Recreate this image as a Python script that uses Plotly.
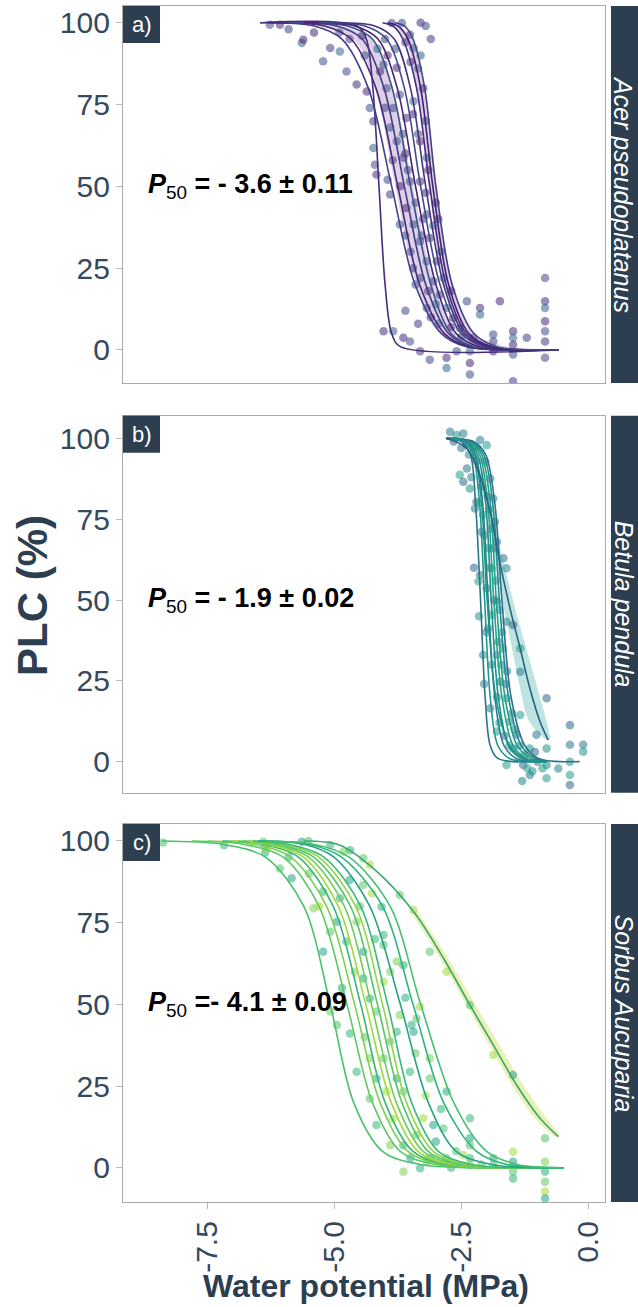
import plotly.graph_objects as go

W, H = 638, 1307

# ---------------- data ----------------
SPECIES = ["Acer pseudoplatanus", "Betula pendula", "Sorbus Aucuparia"]
PANEL_TAGS = ["a)", "b)", "c)"]
P50_TEXT = ["= - 3.6 ± 0.11", "= - 1.9 ± 0.02", "=- 4.1 ± 0.09"]
Y_TICKS = [0, 25, 50, 75, 100]
X_TICKS = [-7.5, -5.0, -2.5, 0.0]
X_TICK_TEXT = ["-7.5", "-5.0", "-2.5", "0.0"]

LEVELS = [100, 99, 95, 80, 50, 20, 5, 1, 0]

A_CURVES_X = [
    [-6.46, -4.55, -4.37, -4.24, -4.12, -4.00, -3.87, -3.70, -0.59],
    [-6.46, -5.40, -4.85, -4.33, -3.87, -3.41, -2.89, -2.40, -0.59],
    [-6.30, -5.20, -4.67, -4.18, -3.75, -3.32, -2.83, -2.35, -0.59],
    [-6.10, -4.95, -4.45, -4.02, -3.62, -3.20, -2.75, -2.30, -0.59],
    [-5.90, -4.75, -4.25, -3.86, -3.50, -3.10, -2.70, -2.25, -0.59],
    [-5.60, -4.60, -4.14, -3.76, -3.40, -3.00, -2.60, -2.15, -0.59],
    [-5.30, -4.40, -3.97, -3.62, -3.30, -2.92, -2.50, -2.05, -0.59],
    [-5.00, -4.20, -3.82, -3.50, -3.20, -2.85, -2.45, -2.00, -0.59],
    [-4.05, -3.85, -3.65, -3.38, -3.12, -2.80, -2.40, -1.95, -0.59],
    [-3.95, -3.75, -3.55, -3.30, -3.06, -2.75, -2.35, -1.90, -0.59],
    [-3.80, -3.62, -3.45, -3.22, -3.00, -2.68, -2.25, -1.80, -0.59],
]
A_RIB_Y = [100, 95, 80, 50, 20, 5, 0]
A_RIB1_XLO = [-5.60, -4.62, -4.20, -3.80, -3.38, -2.92, -1.80]
A_RIB1_XHI = [-5.20, -4.28, -3.85, -3.45, -3.02, -2.58, -1.50]
A_RIB2_XLO = [-3.95, -3.62, -3.38, -3.14, -2.84, -2.45, -1.60]
A_RIB2_XHI = [-3.80, -3.47, -3.22, -2.98, -2.66, -2.25, -1.40]

A_POINTS = [
    (-6.27, 99.4), (-6.07, 99.4), (-5.64, 93.8), (-5.61, 94.8), (-5.22, 88.2), (-5.08, 92.3),
    (-4.76, 85.1), (-4.56, 81.1), (-4.89, 91.2), (-4.36, 79.0), (-4.30, 73.9), (-4.23, 69.9),
    (-4.20, 56.6), (-4.17, 53.6), (-4.23, 61.7), (-4.10, 85.1), (-3.97, 80.0), (-3.87, 99.9),
    (-3.67, 99.9), (-3.51, 96.3), (-3.44, 92.3), (-3.77, 86.2), (-4.03, 87.2), (-3.84, 73.9),
    (-3.71, 78.0), (-3.58, 70.9), (-3.44, 76.0), (-3.31, 63.8), (-3.77, 63.8), (-3.64, 58.7),
    (-3.51, 51.5), (-3.31, 51.5), (-3.18, 58.7), (-3.58, 43.4), (-3.44, 38.3), (-3.18, 41.4),
    (-3.31, 33.2), (-3.12, 34.2), (-3.18, 27.1), (-2.98, 27.1), (-3.71, 38.3), (-3.90, 47.5),
    (-3.05, 21.0), (-2.92, 16.9), (-2.79, 12.8), (-2.66, 9.8), (-3.18, 12.8), (-2.53, 6.7),
    (-2.39, 14.9), (-2.13, 12.8), (-2.13, 10.8), (-1.74, 14.9), (-2.26, 3.7), (-1.87, 2.6),
    (-1.87, 4.7), (-1.48, 5.7), (-1.48, 3.7), (-1.48, 1.6), (-1.48, -1.4), (-1.21, 3.7),
    (-0.85, 22.0), (-0.85, 14.9), (-0.85, 12.8), (-0.85, 8.8), (-0.85, 5.7), (-0.85, 2.6),
    (-0.85, -2.4), (-4.03, 5.7), (-3.84, 5.7), (-3.64, 3.7), (-3.51, 2.6), (-3.31, -0.4),
    (-3.12, -3.0), (-2.79, -2.4), (-2.79, -5.5), (-2.33, -4.0), (-2.33, -7.5), (-1.48, -9.6),
    (-2.59, -0.4), (-1.87, -0.4), (-2.33, -0.4), (-3.60, 60.0), (-3.40, 45.0), (-3.25, 40.0),
    (-3.50, 30.0), (-3.00, 45.0), (-2.90, 30.0), (-3.70, 50.0), (-3.90, 68.0), (-4.00, 74.0),
    (-3.35, 66.0), (-3.15, 55.0), (-2.85, 22.0), (-2.70, 18.0), (-3.40, 20.0), (-3.55, 55.0),
    (-3.28, 35.0), (-3.10, 10.0), (-2.95, 8.0), (-3.95, 90.0), (-4.40, 90.0), (-4.70, 95.0),
    (-5.90, 98.0), (-3.60, 94.0), (-3.35, 86.0), (-3.25, 80.0), (-3.20, 70.0),
    (-4.00, 95.0), (-3.80, 92.0), (-3.50, 88.0), (-3.30, 90.0), (-3.45, 72.0), (-3.65, 66.0),
    (-3.85, 58.0), (-3.95, 52.0), (-3.20, 48.0), (-3.05, 38.0), (-2.95, 40.0), (-3.60, 35.0),
    (-3.45, 25.0), (-3.30, 22.0), (-3.15, 18.0), (-3.00, 14.0), (-2.70, 7.0), (-2.50, 4.0),
    (-3.35, 8.0), (-3.60, 12.0), (-4.45, 96.0), (-4.15, 92.0), (-5.40, 97.0), (-4.90, 97.0),
    (-3.10, 95.0), (-3.20, 99.0), (-3.30, 100.0),
]

B_CURVES_X = [
    [-2.79, -2.50, -2.32, -2.22, -2.12, -2.03, -1.93, -1.78, -0.82],
    [-2.79, -2.45, -2.27, -2.14, -2.04, -1.93, -1.78, -1.55, -0.82],
    [-2.79, -2.40, -2.22, -2.08, -1.97, -1.84, -1.66, -1.42, -0.82],
    [-2.79, -2.38, -2.18, -2.02, -1.91, -1.77, -1.57, -1.32, -0.82],
    [-2.79, -2.35, -2.14, -1.98, -1.86, -1.70, -1.48, -1.22, -0.82],
    [-2.79, -2.32, -2.10, -1.93, -1.81, -1.64, -1.40, -1.12, -0.82],
    [-2.79, -2.30, -2.06, -1.88, -1.75, -1.57, -1.32, -1.05, -0.82],
    [-2.79, -2.26, -2.02, -1.84, -1.70, -1.52, -1.25, -0.98, -0.17],
    [-2.79, -2.42, -2.24, -2.10, -1.99, -1.82, -1.55, -1.25, -0.82],
]
B_SHALLOW_X = [-2.79, -2.40, -2.12, -1.90, -1.77, -1.54, -1.34, -1.15, -0.95, -0.79]
B_SHALLOW_Y = [100, 97, 88, 75, 63.9, 47.4, 35.0, 22.7, 12.4, 6.7]
B_RIB_Y = [90, 75, 63.9, 47.4, 35.0, 22.7, 12.4, 6.7]
B_RIB_XLO = [-2.16, -1.96, -1.84, -1.66, -1.50, -1.34, -1.16, -0.82]
B_RIB_XHI = [-2.08, -1.84, -1.70, -1.44, -1.22, -1.00, -0.82, -0.76]

B_POINTS = [
    (-2.72, 102.0), (-2.59, 101.0), (-2.46, 101.5), (-2.53, 88.7), (-2.46, 86.6), (-2.39, 90.7),
    (-2.26, 96.9), (-2.13, 99.5), (-2.00, 97.9), (-2.03, 92.8), (-1.93, 87.6), (-1.87, 81.4),
    (-2.23, 78.3), (-2.07, 76.3), (-1.84, 74.2), (-1.80, 68.0), (-1.97, 66.0), (-2.13, 57.7),
    (-2.16, 55.7), (-2.00, 53.6), (-1.67, 62.9), (-1.61, 59.8), (-1.80, 49.5), (-1.90, 45.4),
    (-1.48, 42.3), (-1.97, 41.2), (-2.07, 33.0), (-1.80, 33.0), (-1.34, 35.0), (-1.74, 24.7),
    (-1.93, 16.5), (-1.61, 19.6), (-1.34, 27.8), (-1.34, 14.4), (-0.82, 19.6), (-1.02, 8.3),
    (-1.15, 4.1), (-1.48, 4.1), (-1.61, -1.0), (-1.28, -1.0), (-1.15, -4.1), (-0.82, 4.1),
    (-0.82, -1.0), (-0.82, -5.1), (-0.36, 11.3), (-0.36, 5.2), (-0.36, 0.0), (-0.59, -2.1),
    (-0.36, -4.1), (-0.36, -7.2), (-0.10, 5.2), (-0.10, 3.1), (-1.54, 12.4), (-1.80, 9.3),
    (-1.41, 8.3), (-2.20, 80.4), (-2.33, 84.5), (-2.10, 71.1), (-1.90, 59.8), (-1.77, 37.1),
    (-1.71, 29.9), (-1.61, 43.3), (-2.05, 70.0), (-1.95, 60.0), (-1.85, 50.0), (-2.00, 40.0),
    (-1.90, 30.0), (-1.80, 20.0), (-1.75, 12.0), (-1.65, 8.0), (-2.10, 85.0), (-2.20, 93.0),
    (-2.40, 98.0), (-1.95, 78.0), (-2.25, 60.0), (-1.88, 66.0), (-1.70, 40.0), (-1.60, 28.0),
    (-1.55, 5.0), (-1.25, 2.0), (-1.00, 0.0), (-1.10, -3.0), (-1.30, -6.0), (-0.90, -2.0),
    (-2.65, 99.0), (-2.50, 97.0), (-2.35, 95.0), (-2.30, 88.0), (-2.15, 80.0), (-1.98, 82.0),
    (-1.92, 72.0), (-1.82, 56.0), (-1.75, 47.0), (-1.68, 35.0), (-1.62, 24.0), (-1.50, 15.0),
    (-1.45, 10.0), (-1.35, 5.0), (-1.20, -2.0), (-1.05, 3.0), (-2.05, 24.0), (-2.15, 45.0),
]

C_CURVES_X = [
    [-8.40, -7.20, -6.35, -5.60, -5.08, -4.62, -4.05, -3.30, -0.49],
    [-7.80, -6.80, -6.00, -5.30, -4.75, -4.25, -3.70, -3.00, -0.49],
    [-7.50, -6.60, -5.85, -5.15, -4.60, -4.10, -3.55, -2.90, -0.49],
    [-7.20, -6.40, -5.70, -5.02, -4.48, -4.00, -3.45, -2.80, -0.49],
    [-7.00, -6.30, -5.60, -4.92, -4.38, -3.88, -3.35, -2.70, -0.49],
    [-6.90, -6.20, -5.50, -4.80, -4.27, -3.78, -3.25, -2.60, -0.49],
    [-6.80, -6.10, -5.40, -4.68, -4.15, -3.67, -3.15, -2.50, -0.49],
    [-6.70, -6.00, -5.30, -4.58, -4.05, -3.58, -3.05, -2.40, -0.49],
    [-6.60, -5.90, -5.20, -4.48, -3.95, -3.48, -2.95, -2.30, -0.49],
    [-6.50, -5.60, -5.00, -4.30, -3.70, -3.15, -2.60, -1.90, -0.49],
    [-6.40, -5.50, -4.85, -4.05, -3.45, -2.85, -2.20, -1.60, -0.49],
    [-6.30, -5.40, -4.70, -3.90, -3.30, -2.65, -2.00, -1.40, -0.55],
]
C_SHALLOW_X = [-5.60, -4.90, -4.23, -3.44, -2.85, -2.33, -1.87, -1.41, -0.95, -0.59]
C_SHALLOW_Y = [100, 98.8, 91.6, 78.4, 64.1, 49.8, 37.6, 25.3, 15.1, 9.5]
C_RIB_Y = [78.4, 64.1, 49.8, 37.6, 25.3, 15.1, 9.5]
C_RIB_XLO = [-3.50, -2.92, -2.40, -1.95, -1.50, -1.05, -0.65]
C_RIB_XHI = [-3.36, -2.76, -2.22, -1.75, -1.28, -0.82, -0.55]

C_POINTS = [
    (-8.37, 99.5), (-7.17, 98.7), (-6.36, 98.5), (-6.36, 96.5), (-6.40, 99.8), (-6.33, 97.8),
    (-5.64, 99.8), (-5.51, 100.0), (-5.08, 98.8), (-4.82, 96.7), (-4.69, 97.2), (-4.43, 94.7),
    (-4.30, 92.7), (-5.84, 88.6), (-6.07, 91.6), (-5.22, 84.5), (-5.41, 79.4), (-4.89, 82.5),
    (-4.43, 86.5), (-4.26, 84.0), (-4.95, 75.3), (-5.08, 72.2), (-4.76, 69.2), (-4.56, 75.3),
    (-4.07, 79.9), (-3.71, 83.5), (-3.44, 78.9), (-4.43, 66.1), (-4.03, 68.2), (-4.03, 71.2),
    (-3.77, 63.1), (-3.64, 62.0), (-3.12, 66.1), (-2.79, 60.0), (-5.22, 66.1), (-4.95, 43.7),
    (-4.69, 41.1), (-5.08, 47.8), (-4.30, 51.8), (-4.17, 47.8), (-4.03, 56.9), (-4.43, 57.9),
    (-3.90, 38.6), (-3.77, 41.6), (-3.71, 46.7), (-3.48, 43.7), (-3.38, 45.7), (-3.31, 49.3),
    (-3.44, 41.6), (-2.33, 49.8), (-4.56, 29.4), (-4.30, 33.5), (-4.17, 27.3), (-4.03, 33.5),
    (-3.97, 23.3), (-3.77, 27.3), (-3.64, 23.3), (-3.51, 29.4), (-3.12, 33.5), (-2.79, 23.3),
    (-3.12, 27.3), (-1.87, 34.5), (-1.48, 28.4), (-4.30, 21.2), (-4.17, 13.1), (-3.90, 6.9),
    (-3.64, 6.9), (-3.38, 10.0), (-3.25, 15.1), (-3.05, 13.1), (-2.85, 12.0), (-3.12, 2.9),
    (-3.64, -1.2), (-3.31, -0.2), (-2.79, 2.9), (-2.46, 3.9), (-2.33, 9.0), (-2.33, 6.9),
    (-2.33, 2.9), (-2.33, 0.8), (-1.87, 2.9), (-1.87, 0.8), (-1.48, 4.9), (-1.48, 1.8),
    (-1.48, -1.2), (-1.48, -3.3), (-0.85, 1.8), (-0.85, -1.2), (-0.85, -4.3), (-0.85, -7.3),
    (-0.85, -9.4), (-0.85, 9.0), (-2.33, 15.1), (-3.18, 1.8),
    (-5.90, 95.0), (-5.50, 90.0), (-5.30, 80.0), (-4.70, 88.0), (-4.50, 80.0), (-4.20, 70.0),
    (-3.90, 60.0), (-3.60, 52.0), (-3.40, 35.0), (-3.20, 22.0), (-3.00, 8.0), (-2.60, 5.0),
    (-2.90, 18.0), (-4.60, 60.0), (-4.85, 55.0), (-4.40, 40.0), (-3.85, 15.0), (-3.50, 3.0),
    (-2.10, 1.0), (-2.70, 0.0),
]

# ---------------- styles ----------------
A_LINE_COLORS = ["#472c7a", "#3f3f8a", "#4b2577", "#443983", "#3b4f8a", "#482173",
                 "#3e4c8a", "#46327e", "#412f80", "#4a1e6f", "#3f448a"]
A_PT_COLORS = ["#3e4a89", "#46327e", "#31688e", "#482878", "#3b528b", "#433e85"]
B_LINE_COLORS = ["#2b748e", "#1f9a8a", "#26828e", "#21908d", "#22a785", "#1fa187",
                 "#228c8d", "#2c718e", "#20928c"]
B_PT_COLORS = ["#2a788e", "#21908c", "#25848e", "#1f9e89", "#31688e"]
C_LINE_COLORS = ["#4ac16d", "#5ec962", "#7ad151", "#35b779", "#a0da39", "#6ccd5a",
                 "#52c569", "#8ed645", "#3aba76", "#24a386", "#2fb47c", "#45bf70"]
C_PT_COLORS = ["#52c569", "#35b779", "#7ad151", "#29af7f", "#5ec962", "#a0da39", "#20a486"]

STRIP_COLOR = "#2c3e50"
TEXT_COLOR = "#34495e"
BORDER_COLOR = "#a9a9a9"
FONT = "Liberation Sans, Arial, sans-serif"

PANEL_TOP = [6, 415.7, 824]
PANEL_BOT = [383, 792.7, 1202]
PLOT_L, PLOT_R = 123, 605
STRIP_L = 611
Y_RANGES = [[-10.1, 105.1], [-9.6, 107.0], [-10.5, 105.2]]
X_RANGE = [-9.16, 0.33]


def pxx(px):
    return px / W


def pxy(py):
    return 1 - py / H


fig = go.Figure()


def add_ribbon(xlo, xhi, ys, color, ax):
    fig.add_trace(go.Scatter(
        x=list(xlo) + list(xhi)[::-1], y=list(ys) + list(ys)[::-1],
        mode="lines", fill="toself", fillcolor=color,
        line=dict(width=0, shape="spline"), hoverinfo="skip",
        xaxis=ax[0], yaxis=ax[1]))


def add_points(points, colors, ax):
    xs = [p[0] for p in points]
    ys = [p[1] for p in points]
    cols = [colors[i % len(colors)] for i in range(len(points))]
    fig.add_trace(go.Scatter(
        x=xs, y=ys, mode="markers",
        marker=dict(size=8.5, color=cols, opacity=0.55, line=dict(width=0)),
        xaxis=ax[0], yaxis=ax[1]))


def add_curve(xs, ys, color, ax):
    fig.add_trace(go.Scatter(
        x=xs, y=ys, mode="lines",
        line=dict(color=color, width=1.6, shape="spline", smoothing=0.9),
        xaxis=ax[0], yaxis=ax[1]))


AXES = [("x", "y"), ("x2", "y2"), ("x3", "y3")]

# panel a
add_ribbon(A_RIB1_XLO, A_RIB1_XHI, A_RIB_Y, "rgba(130,90,165,0.28)", AXES[0])
add_ribbon(A_RIB2_XLO, A_RIB2_XHI, A_RIB_Y, "rgba(130,90,165,0.28)", AXES[0])
add_points(A_POINTS, A_PT_COLORS, AXES[0])
for i, cx in enumerate(A_CURVES_X):
    add_curve(cx, LEVELS, A_LINE_COLORS[i % len(A_LINE_COLORS)], AXES[0])

# panel b
add_ribbon(B_RIB_XLO, B_RIB_XHI, B_RIB_Y, "rgba(110,195,185,0.45)", AXES[1])
add_points(B_POINTS, B_PT_COLORS, AXES[1])
for i, cx in enumerate(B_CURVES_X):
    add_curve(cx, LEVELS, B_LINE_COLORS[i % len(B_LINE_COLORS)], AXES[1])
add_curve(B_SHALLOW_X, B_SHALLOW_Y, "#2c5f86", AXES[1])

# panel c
add_ribbon(C_RIB_XLO, C_RIB_XHI, C_RIB_Y, "rgba(215,228,110,0.5)", AXES[2])
add_points(C_POINTS, C_PT_COLORS, AXES[2])
for i, cx in enumerate(C_CURVES_X):
    add_curve(cx, LEVELS, C_LINE_COLORS[i % len(C_LINE_COLORS)], AXES[2])
add_curve(C_SHALLOW_X, C_SHALLOW_Y, "#3aa873", AXES[2])

layout = dict(
    width=W, height=H, margin=dict(l=0, r=0, t=0, b=0),
    paper_bgcolor="white", plot_bgcolor="white", showlegend=False,
    font=dict(family=FONT, color=TEXT_COLOR),
)
shapes = []
annotations = []
for i in range(3):
    xa = "xaxis" if i == 0 else "xaxis%d" % (i + 1)
    ya = "yaxis" if i == 0 else "yaxis%d" % (i + 1)
    bottom = (i == 2)
    dom_y = [pxy(PANEL_BOT[i]), pxy(PANEL_TOP[i])]
    layout[xa] = dict(
        domain=[pxx(PLOT_L), pxx(PLOT_R)], range=X_RANGE, anchor=AXES[i][1],
        showgrid=False, zeroline=False, showline=True, mirror=True,
        linecolor=BORDER_COLOR, linewidth=1.3,
        tickmode="array", tickvals=X_TICKS, ticktext=X_TICK_TEXT,
        ticks="outside" if bottom else "", ticklen=6, tickcolor="#b8b8b8",
        showticklabels=bottom, tickangle=-90,
        tickfont=dict(size=30, color=TEXT_COLOR, family=FONT),
    )
    layout[ya] = dict(
        domain=dom_y, range=Y_RANGES[i], anchor=AXES[i][0],
        showgrid=False, zeroline=False, showline=True, mirror=True,
        linecolor=BORDER_COLOR, linewidth=1.3,
        tickmode="array", tickvals=Y_TICKS,
        ticks="outside", ticklen=6, tickcolor="#b8b8b8",
        tickfont=dict(size=30, color=TEXT_COLOR, family=FONT),
    )
    # strip
    shapes.append(dict(type="rect", xref="paper", yref="paper",
                       x0=pxx(STRIP_L), x1=1.0, y0=dom_y[0], y1=dom_y[1],
                       fillcolor=STRIP_COLOR, line=dict(width=0), layer="above"))
    annotations.append(dict(xref="paper", yref="paper",
                            x=pxx(623.5), y=(dom_y[0] + dom_y[1]) / 2,
                            text="<i>%s</i>" % SPECIES[i], textangle=90, showarrow=False,
                            font=dict(size=25, color="white", family=FONT),
                            xanchor="center", yanchor="middle"))
    # panel tag box
    shapes.append(dict(type="rect", xref="paper", yref="paper",
                       x0=pxx(PLOT_L), x1=pxx(PLOT_L + 37),
                       y0=pxy(PANEL_TOP[i] + 37), y1=pxy(PANEL_TOP[i]),
                       fillcolor=STRIP_COLOR, line=dict(width=0), layer="above"))
    annotations.append(dict(xref="paper", yref="paper",
                            x=pxx(PLOT_L + 18.5), y=pxy(PANEL_TOP[i] + 18.5),
                            text=PANEL_TAGS[i], showarrow=False,
                            font=dict(size=22, color="white", family=FONT),
                            xanchor="center", yanchor="middle"))
    # P50 annotation
    annotations.append(dict(xref="paper", yref=AXES[i][1], x=pxx(146), y=50,
                            text="<b><i>P</i></b><sub>50</sub><b> %s</b>" % P50_TEXT[i],
                            showarrow=False, xanchor="left", yanchor="middle",
                            font=dict(size=27, color="black", family=FONT)))

annotations.append(dict(xref="paper", yref="paper", x=pxx(32), y=pxy(596),
                        text="<b>PLC (%)</b>", textangle=-90, showarrow=False,
                        font=dict(size=42, color=STRIP_COLOR, family=FONT),
                        xanchor="center", yanchor="middle"))
annotations.append(dict(xref="paper", yref="paper", x=pxx(366), y=pxy(1286),
                        text="<b>Water potential (MPa)</b>", showarrow=False,
                        font=dict(size=32, color=STRIP_COLOR, family=FONT),
                        xanchor="center", yanchor="middle"))
layout["shapes"] = shapes
layout["annotations"] = annotations
fig.update_layout(**layout)

fig.write_html("out.html")
